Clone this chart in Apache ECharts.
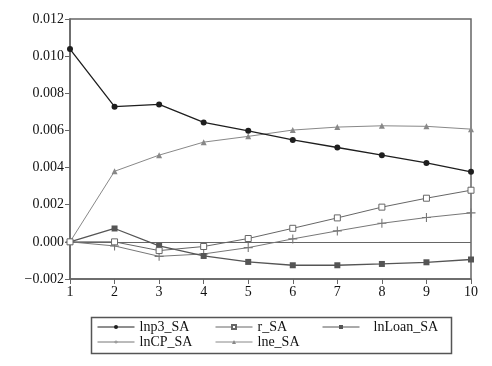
<!DOCTYPE html>
<html>
<head>
<meta charset="utf-8">
<script src="https://cdn.jsdelivr.net/npm/echarts@6/dist/echarts.min.js"></script>
<style>html,body{margin:0;padding:0;background:#fff;}#c{width:492px;height:366px;}</style>
</head>
<body>
<div id="c"></div>
<script>
var periods = [1, 2, 3, 4, 5, 6, 7, 8, 9, 10];
var seriesNames = ['lnp3_SA', 'r_SA', 'lnLoan_SA', 'lnCP_SA', 'lne_SA'];
var lnp3_SA = [0.01038, 0.00728, 0.00740, 0.00643, 0.00598, 0.00549, 0.00508, 0.00467, 0.00425, 0.00377];
var r_SA = [0.0, 0.0, -0.00047, -0.00025, 0.00018, 0.00073, 0.00129, 0.00187, 0.00235, 0.00278];
var lnLoan_SA = [0.0, 0.00072, -0.00022, -0.00076, -0.00108, -0.00126, -0.00126, -0.00119, -0.00110, -0.00095];
var lnCP_SA = [0.0, -0.00022, -0.00078, -0.00065, -0.00031, 0.00016, 0.00059, 0.00100, 0.00131, 0.00156];
var lne_SA = [0.0, 0.00380, 0.00467, 0.00537, 0.00568, 0.00602, 0.00618, 0.00625, 0.00622, 0.00607];

function pairs(vals) { return periods.map(function (p, i) { return [p, vals[i]]; }); }

var font = '"Liberation Serif", "Times New Roman", serif';
var axisColor = '#666';
var plusPath = 'path://M4.4,0h1.2v10h-1.2zM0,4.4h10v1.2h-10z';

var styles = [
  { data: lnp3_SA, color: '#1e1e1e', width: 1.3, symbol: 'circle', size: 6, fill: '#1e1e1e' },
  { data: r_SA, color: '#666', width: 1, symbol: 'rect', size: 6, fill: '#fff' },
  { data: lnLoan_SA, color: '#555', width: 1.3, symbol: 'rect', size: 6, fill: '#555' },
  { data: lnCP_SA, color: '#777', width: 1, symbol: plusPath, size: 9, fill: '#777' },
  { data: lne_SA, color: '#888', width: 1, symbol: 'triangle', size: 6, fill: '#888' }
];

var series = styles.map(function (s, i) {
  var o = {
    name: seriesNames[i],
    type: 'line',
    data: pairs(s.data),
    symbol: s.symbol,
    symbolSize: s.size,
    showAllSymbol: true,
    animation: false,
    lineStyle: { color: s.color, width: s.width },
    itemStyle: { color: s.fill, borderColor: s.color, borderWidth: s.fill === '#fff' ? 1 : 0 },
    z: 10 - i
  };
  if (i === 0) {
    o.markLine = {
      silent: true, symbol: 'none', label: { show: false },
      lineStyle: { color: '#666', width: 1.2, type: 'solid' },
      data: [{ yAxis: 0 }], animation: false
    };
  }
  return o;
});

var legendPos = [
  { left: 97, top: 320 },
  { left: 215, top: 320 },
  { left: 322, top: 320 },
  { left: 97, top: 335 },
  { left: 215, top: 335 }
];
var legends = seriesNames.map(function (n, i) {
  return {
    data: [n], left: legendPos[i].left, top: legendPos[i].top,
    itemWidth: 37, itemHeight: 5, padding: 0,
    lineStyle: { width: 1 },
    textStyle: { fontFamily: font, fontSize: 14, color: '#111', padding: i === 2 ? [0, 0, 0, 9] : [0, 0, 0, 0] },
    selectedMode: false
  };
});

var chart = echarts.init(document.getElementById('c'), null, { renderer: 'canvas' });
chart.setOption({
  backgroundColor: '#fff',
  animation: false,
  grid: { left: 70, right: 21, top: 19, bottom: 87, show: true, borderColor: axisColor, borderWidth: 1.5, backgroundColor: 'transparent' },
  xAxis: {
    type: 'value', min: 1, max: 10, interval: 1,
    axisLine: { show: true, onZero: false, lineStyle: { color: axisColor, width: 1.5 } },
    axisTick: { show: true, inside: false, length: 5, lineStyle: { color: axisColor } },
    splitLine: { show: false },
    axisLabel: { fontFamily: font, fontSize: 14, color: '#111', margin: 6 }
  },
  yAxis: {
    type: 'value', min: -0.002, max: 0.012, interval: 0.002,
    axisLine: { show: true, lineStyle: { color: axisColor, width: 1.5 } },
    axisTick: { show: true, inside: false, length: 5, lineStyle: { color: axisColor } },
    splitLine: { show: false },
    axisLabel: {
      fontFamily: font, fontSize: 14, color: '#111', margin: 6,
      formatter: function (v) { return v.toFixed(3).replace('-', '\u2212'); }
    }
  },
  legend: legends,
  graphic: [{
    type: 'rect', left: 89, top: 315, silent: true,
    shape: { width: 360, height: 36 },
    style: { fill: 'none', stroke: '#555', lineWidth: 1.5 }
  }],
  series: series
});
</script>
</body>
</html>
